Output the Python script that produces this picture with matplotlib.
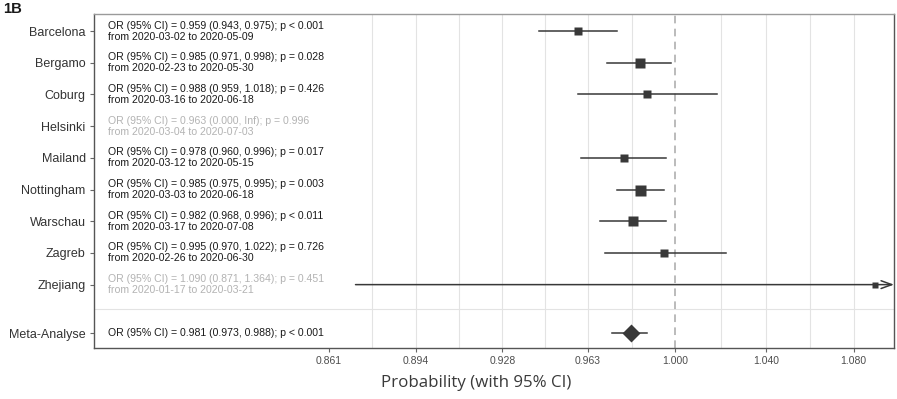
import numpy as np
import matplotlib
matplotlib.use("Agg")
import matplotlib.pyplot as plt
from matplotlib import transforms

plt.rcParams['font.family'] = ['Liberation Sans', 'DejaVu Sans']

cities = ["Barcelona", "Bergamo", "Coburg", "Helsinki", "Mailand",
          "Nottingham", "Warschau", "Zagreb", "Zhejiang"]
odds = [0.959, 0.985, 0.988, 0.963, 0.978, 0.985, 0.982, 0.995, 1.090]
ci_low = [0.943, 0.971, 0.959, 0.000, 0.960, 0.975, 0.968, 0.970, 0.871]
ci_high = [0.975, 0.998, 1.018, np.inf, 0.996, 0.995, 0.996, 1.022, 1.364]
p_text = ["< 0.001", "= 0.028", "= 0.426", "= 0.996", "= 0.017",
          "= 0.003", "< 0.011", "= 0.726", "= 0.451"]
date_from = ["2020-03-02", "2020-02-23", "2020-03-16", "2020-03-04", "2020-03-12",
             "2020-03-03", "2020-03-17", "2020-02-26", "2020-01-17"]
date_to = ["2020-05-09", "2020-05-30", "2020-06-18", "2020-07-03", "2020-05-15",
           "2020-06-18", "2020-07-08", "2020-06-30", "2020-03-21"]
weights = [8.7, 9.3, 7.3, 0, 8.7, 11.0, 10.7, 8.3, 5.7]
excluded = [False, False, False, True, False, False, False, False, True]

meta_label = "Meta-Analyse"
meta_or = 0.981
meta_low = 0.973
meta_high = 0.988
meta_p = "< 0.001"

x_ticks = [0.861, 0.894, 0.928, 0.963, 1.000, 1.040, 1.080]
x_min, x_max = 0.778, 1.099

dark = "#383838"
grey_txt = "#b3b3b3"

fig = plt.figure(figsize=(8.97, 3.99), dpi=100)
ax = fig.add_axes([94 / 897, 1 - 348 / 399, 800 / 897, 334 / 399])
ax.set_xscale('log')
ax.set_xlim(x_min, x_max)
meta_y = len(cities) + 0.53
ax.set_ylim(meta_y + 0.47, -0.54)

# grid: major ticks (except the first) and midpoints in log space
grid = []
for a, b in zip(x_ticks[:-1], x_ticks[1:]):
    grid.append(np.sqrt(a * b))
    grid.append(b)
for g in grid:
    if abs(g - 1.0) > 1e-6:
        ax.axvline(g, color="#e3e3e3", lw=0.8, zorder=0)
ax.axhline(len(cities) - 1 + (meta_y - len(cities) + 1) / 2, color="#e3e3e3", lw=0.8, zorder=0)
ax.axvline(1.0, color="#a8a8a8", lw=1.1, ls=(0, (5, 3.5)), zorder=1)

tr = transforms.blended_transform_factory(ax.transAxes, ax.transData)
for i, city in enumerate(cities):
    col = grey_txt if excluded[i] else "#1a1a1a"
    hi = "Inf" if np.isinf(ci_high[i]) else f"{ci_high[i]:.3f}"
    txt = (f"OR (95% CI) = {odds[i]:.3f} ({ci_low[i]:.3f}, {hi}); p {p_text[i]}\n"
           f"from {date_from[i]} to {date_to[i]}")
    ax.text(0.0175, i, txt, transform=tr, ha='left', va='center', fontsize=7.6,
            color=col, linespacing=1.12)
    if weights[i] == 0 or np.isinf(ci_high[i]):
        continue
    if ci_high[i] > x_max:
        ax.annotate('', xy=(x_max, i), xytext=(ci_low[i], i),
                    arrowprops=dict(arrowstyle='->, head_length=0.55, head_width=0.2',
                                    lw=1.1, color=dark, shrinkA=0, shrinkB=0,
                                    mutation_scale=14), annotation_clip=False)
    else:
        ax.plot([ci_low[i], ci_high[i]], [i, i], color=dark, lw=1.1, zorder=3)
    ax.plot(odds[i], i, marker='s', ms=weights[i] * 0.72, color=dark,
            mec='none', zorder=4)

ax.plot([meta_low, meta_high], [meta_y, meta_y], color=dark, lw=1.1, zorder=3)
ax.plot(meta_or, meta_y, marker='D', ms=8.7, color=dark, mec='none', zorder=4)
ax.text(0.0175, meta_y, f"OR (95% CI) = {meta_or:.3f} ({meta_low:.3f}, {meta_high:.3f}); p {meta_p}",
        transform=tr, ha='left', va='center', fontsize=7.6, color="#1a1a1a")

ax.set_yticks(list(range(len(cities))) + [meta_y])
ax.set_yticklabels(cities + [meta_label], fontsize=9, color="#333333")
ax.set_xticks(x_ticks)
ax.set_xticklabels([f"{t:.3f}" for t in x_ticks], fontsize=7.5, color="#4d4d4d")
ax.minorticks_off()
ax.tick_params(axis='both', length=3, width=0.8, color="#666666", pad=3)

for s in ax.spines.values():
    s.set_color("#555555")
    s.set_linewidth(1.0)
ax.spines['top'].set_color("#9a9a9a")

fig.text(476 / 897, 1 - 383 / 399, "Probability (with 95% CI)", ha='center', va='center',
         fontsize=12.2, family=['Open Sans', 'DejaVu Sans'], color="#3a3a3a")
fig.text(3 / 897, 1 - 9 / 399, "1B", ha='left', va='center', fontsize=10.7,
         fontweight='bold', color="#1a1a1a")

fig.savefig("out.png", dpi=100)
